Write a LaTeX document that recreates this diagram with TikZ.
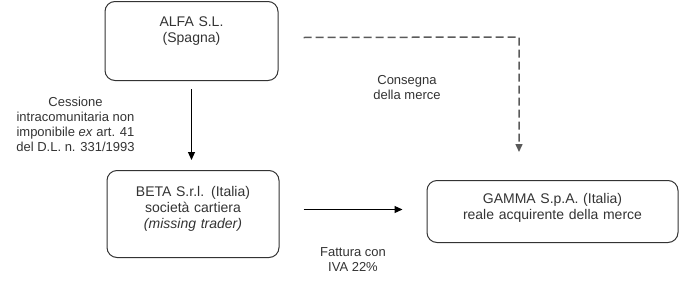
\documentclass[tikz,border=0pt]{standalone}
\usepackage{fontspec}
\setmainfont{Liberation Sans}
\usetikzlibrary{arrows.meta}
\definecolor{inkgray}{HTML}{333333}
\definecolor{dashgray}{HTML}{5A5A5A}

\begin{document}
\begin{tikzpicture}[x=1pt, y=-1pt,
    company/.style={draw=inkgray, line width=1pt, rounded corners=10pt,
      inner sep=12pt, text=inkgray, align=center, anchor=north,
      font=\fontsize{14}{16}\selectfont},
    note/.style={text=inkgray, align=center, font=\fontsize{13}{15}\selectfont},
    flow/.style={-{Triangle[length=8pt,width=7pt]}, line width=1.2pt},
    goods/.style={flow, dashgray, line width=1.5pt, dash pattern=on 8pt off 4pt}]
        \useasboundingbox (0,0) rectangle (680,295);
        % the three companies
        \node[company, text width=149pt, text height=13pt, text depth=42pt]
          (alfa) at (191.5,1) {ALFA S.L.\\(Spagna)};
        \node[company, text width=148pt, text height=14pt, text depth=49pt]
          (beta) at (193,170) {BETA S.r.l. (Italia)\\società cartiera\\\textit{(missing trader)}};
        \node[company, text width=227pt, text height=11pt, text depth=27pt]
          (gamma) at (552.5,180) {GAMMA S.p.A. (Italia)\\reale acquirente della merce};
        % flows
        \draw[flow, shorten <=8pt, shorten >=10pt]
          (alfa.south) -- (alfa.south |- beta.north);
        \draw[flow] ([xshift=24pt,yshift=4.5pt]beta.east)
          -- ([xshift=-24pt,yshift=4.5pt]beta.east -| gamma.west);
        \coordinate (bend) at (519,37);
        \draw[goods, shorten >=28pt] ([xshift=25pt,yshift=3.5pt]alfa.east)
          -- (bend) -- (bend |- gamma.north);
        % labels
        \node[note] (cession) at (75.5,124.5)
          {Cessione\\intracomunitaria non\\imponibile \textit{ex} art. 41\\del D.L. n. 331/1993};
        \node[note] (delivery) at (407,87.5) {Consegna\\della merce};
        \node[note] (invoice) at (353,260) {Fattura con\\IVA 22\%};
\end{tikzpicture}
\end{document}
